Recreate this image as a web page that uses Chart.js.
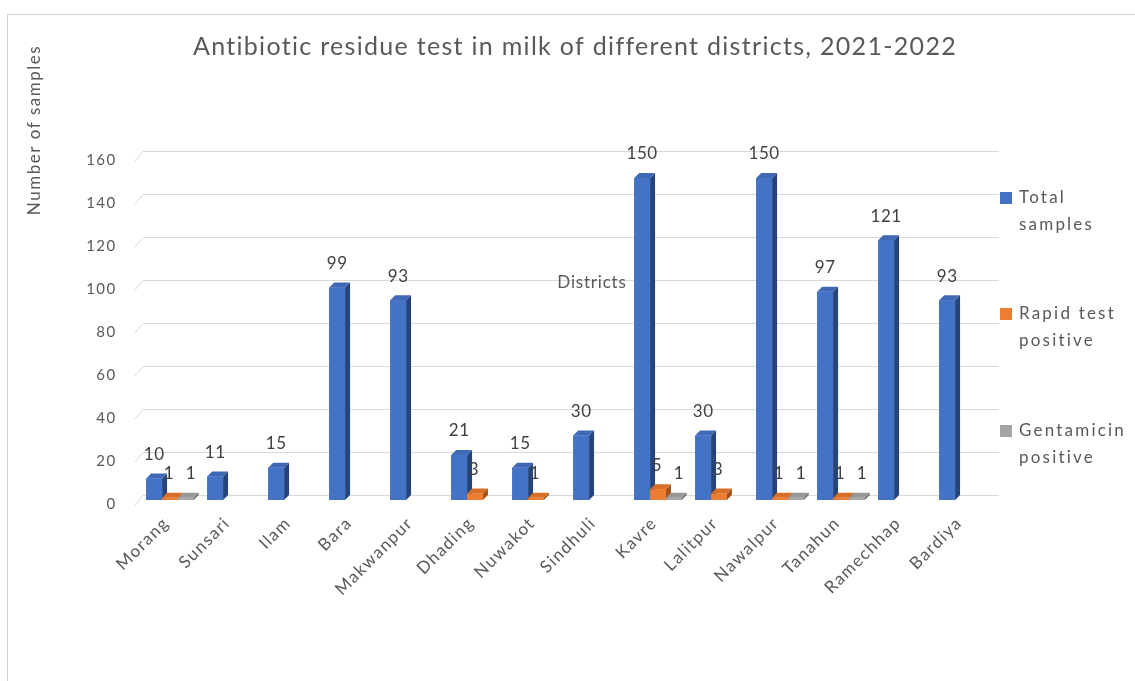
<!DOCTYPE html>
<html>
<head>
<meta charset="utf-8">
<title>Antibiotic residue test in milk</title>
<script src="https://cdn.jsdelivr.net/npm/chart.js@4/dist/chart.umd.min.js"></script>
<style>
  html, body { margin: 0; padding: 0; background: #ffffff; }
  #wrap { position: relative; width: 1135px; height: 681px; }
</style>
</head>
<body>
<div id="wrap"><canvas id="chart" width="1135" height="681"></canvas></div>
<script>
// Districts sampled and results per district
const categories = ['Morang', 'Sunsari', 'Ilam', 'Bara', 'Makwanpur', 'Dhading', 'Nuwakot',
  'Sindhuli', 'Kavre', 'Lalitpur', 'Nawalpur', 'Tanahun', 'Ramechhap', 'Bardiya'];
const totalSamples       = [10, 11, 15, 99, 93, 21, 15, 30, 150, 30, 150, 97, 121, 93];
const rapidTestPositive  = [1, 0, 0, 0, 0, 3, 1, 0, 5, 3, 1, 1, 0, 0];
const gentamicinPositive = [1, 0, 0, 0, 0, 0, 0, 0, 1, 0, 1, 1, 0, 0];

const seriesNames = [['Total', 'samples'], ['Rapid test', 'positive'], ['Gentamicin', 'positive']];
const yMin = 0, yMax = 160, yStep = 20;

const FONT = 'Lato, "Open Sans", sans-serif';
const TEXT = '#595959';
const faces = [
  { front: '#4472C4', top: '#3F69B5', side: '#25447A' },
  { front: '#ED7D31', top: '#D96F27', side: '#A3541C' },
  { front: '#A5A5A5', top: '#969696', side: '#6E6E6E' }
];
const DEPTH = 5;

// Back-wall gridlines with the small slanted lead-in on the left
const gridPlugin = {
  id: 'backGrid',
  beforeDatasetsDraw(chart) {
    const { ctx, chartArea, scales } = chart;
    ctx.save();
    ctx.strokeStyle = '#d9d9d9';
    ctx.lineWidth = 1;
    for (let v = yMin; v <= yMax; v += yStep) {
      const y = Math.round(scales.y.getPixelForValue(v) - DEPTH - 0.5) + 0.5;
      ctx.beginPath();
      ctx.moveTo(chartArea.left - 4.5, y + 9.5);
      ctx.lineTo(chartArea.left + 3.5, y);
      ctx.lineTo(chartArea.right + 5.5, y);
      ctx.stroke();
    }
    ctx.restore();
  }
};

// Extruded bars: side and top faces, then the front face, category by category
const barDepthPlugin = {
  id: 'barDepth',
  afterDatasetsDraw(chart) {
    const { ctx } = chart;
    const metas = [0, 1, 2].map(i => chart.getDatasetMeta(i));
    ctx.save();
    for (let c = 0; c < categories.length; c++) {
      metas.forEach((meta, d) => {
        const value = chart.data.datasets[d].data[c];
        if (!value) return;
        const el = meta.data[c];
        const xL = el.x - el.width / 2, xR = el.x + el.width / 2;
        const yT = el.y, yB = el.base;
        const f = faces[d];
        ctx.fillStyle = f.side;
        ctx.beginPath();
        ctx.moveTo(xR, yT); ctx.lineTo(xR + DEPTH, yT - DEPTH);
        ctx.lineTo(xR + DEPTH, yB - DEPTH); ctx.lineTo(xR, yB);
        ctx.closePath(); ctx.fill();
        ctx.fillStyle = f.top;
        ctx.beginPath();
        ctx.moveTo(xL, yT); ctx.lineTo(xR, yT);
        ctx.lineTo(xR + DEPTH, yT - DEPTH); ctx.lineTo(xL + DEPTH, yT - DEPTH);
        ctx.closePath(); ctx.fill();
        ctx.fillStyle = f.front;
        ctx.fillRect(xL, yT, xR - xL, yB - yT);
      });
    }
    ctx.restore();
  }
};

// Value labels above each non-zero bar
const valueLabelPlugin = {
  id: 'valueLabels',
  afterDatasetsDraw(chart) {
    const { ctx } = chart;
    ctx.save();
    ctx.font = '17px ' + FONT;
    ctx.letterSpacing = '0.5px';
    ctx.fillStyle = '#404040';
    ctx.textAlign = 'center';
    ctx.textBaseline = 'middle';
    const shift = [0, -1, 5];
    chart.data.datasets.forEach((ds, d) => {
      const meta = chart.getDatasetMeta(d);
      ds.data.forEach((v, c) => {
        if (!v) return;
        const el = meta.data[c];
        ctx.fillText(String(v), el.x + shift[d], el.y - 24);
      });
    });
    ctx.restore();
  }
};

// Frame, title, axis titles and legend
const decorPlugin = {
  id: 'decor',
  beforeDraw(chart) {
    const { ctx, width, height } = chart;
    ctx.save();
    ctx.fillStyle = '#ffffff';
    ctx.fillRect(0, 0, width, height);
    ctx.strokeStyle = '#d0d0d0';
    ctx.lineWidth = 1;
    ctx.strokeRect(7.5, 14.5, width + 10, height + 10);
    ctx.restore();
    // spacing for the axis tick labels drawn next
    ctx.letterSpacing = '1.4px';
  },
  afterDraw(chart) {
    const { ctx } = chart;
    ctx.save();
    ctx.fillStyle = TEXT;
    ctx.textBaseline = 'middle';

    ctx.font = '25px ' + FONT;
    ctx.letterSpacing = '1.3px';
    ctx.textAlign = 'center';
    ctx.fillText('Antibiotic residue test in milk of different districts, 2021-2022', 575, 47);

    ctx.font = '17px ' + FONT;
    ctx.letterSpacing = '0.8px';
    ctx.fillText('Districts', 592, 283);

    ctx.save();
    ctx.translate(35, 130);
    ctx.rotate(-Math.PI / 2);
    ctx.font = '17px ' + FONT;
    ctx.letterSpacing = '1.5px';
    ctx.fillText('Number of samples', 0, 0);
    ctx.restore();

    const legendTop = [198, 314, 431];
    ctx.textAlign = 'left';
    ctx.font = '17px ' + FONT;
    ctx.letterSpacing = '2.2px';
    seriesNames.forEach((lines, i) => {
      ctx.fillStyle = faces[i].front;
      ctx.fillRect(1000, legendTop[i] - 6, 12, 12);
      ctx.fillStyle = TEXT;
      lines.forEach((t, k) => ctx.fillText(t, 1019, legendTop[i] + k * 27));
    });
    ctx.restore();
  }
};

new Chart(document.getElementById('chart'), {
  type: 'bar',
  data: {
    labels: categories,
    datasets: [
      { label: 'Total samples', data: totalSamples, backgroundColor: faces[0].front },
      { label: 'Rapid test positive', data: rapidTestPositive, backgroundColor: faces[1].front },
      { label: 'Gentamicin positive', data: gentamicinPositive, backgroundColor: faces[2].front }
    ]
  },
  options: {
    responsive: false,
    animation: false,
    events: [],
    layout: { padding: { left: 0, right: 141.5, top: 156.5, bottom: 0 } },
    datasets: { bar: { categoryPercentage: 0.78, barPercentage: 1.0 } },
    plugins: {
      legend: { display: false },
      title: { display: false },
      tooltip: { enabled: false }
    },
    scales: {
      x: {
        grid: { display: false },
        border: { display: false },
        ticks: {
          autoSkip: false,
          maxRotation: 45,
          minRotation: 45,
          padding: 5,
          labelOffset: -4,
          color: TEXT,
          font: { family: FONT, size: 17 }
        },
        afterFit(scale) { scale.height = 181; }
      },
      y: {
        min: yMin,
        max: yMax,
        grid: { display: false },
        border: { display: false },
        ticks: {
          stepSize: yStep,
          padding: 15,
          labelOffset: 4,
          color: TEXT,
          font: { family: FONT, size: 15 }
        },
        afterFit(scale) { scale.width = 139.5; }
      }
    }
  },
  plugins: [decorPlugin, gridPlugin, barDepthPlugin, valueLabelPlugin]
});
</script>
</body>
</html>
